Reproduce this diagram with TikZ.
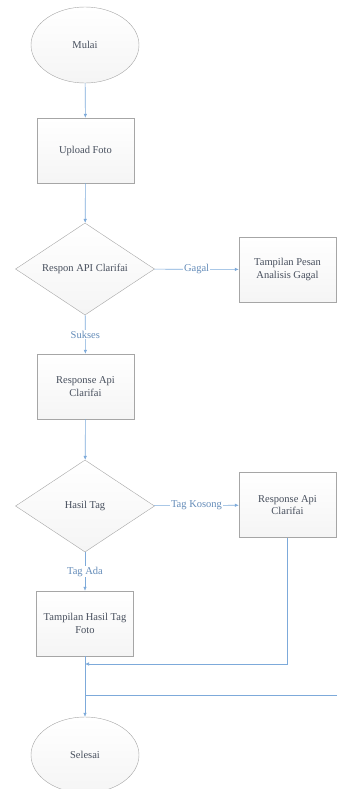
\documentclass[tikz,border=0pt]{standalone}
\usepackage{fontspec}
\setmainfont{Liberation Serif}
\usetikzlibrary{shapes.geometric,arrows.meta}
\definecolor{lineblue}{RGB}{125,170,218}
\definecolor{lblblue}{RGB}{100,140,185}
\definecolor{txtgray}{RGB}{70,78,92}
\begin{document}
\begin{tikzpicture}[x=1pt,y=-1pt,
	font=\fontsize{10.5}{12.5}\selectfont,
	box/.style={draw=gray!70,top color=white,bottom color=gray!8,text=txtgray,align=center},
	terminal/.style={box,ellipse,minimum width=108pt,minimum height=76pt},
	process/.style={box,rectangle,minimum width=97pt,minimum height=65pt,inner sep=1pt},
	decision/.style={box,diamond,aspect=1.5,inner sep=0pt,minimum width=139pt,minimum height=92pt},
	flow/.style={draw=lineblue,line width=0.6pt,-{Latex[length=4pt,width=3.5pt]}},
	lbl/.style={fill=white,text=lblblue,inner sep=1pt}]
\useasboundingbox (0,0) rectangle (337,789);
\node [terminal] (mulai) at (85,45) {Mulai};
\node [process] (upload) at (85.5,150.5) {Upload Foto};
\node [decision] (respon) at (85,269) {Respon API Clarifai};
\node [process] (pesan) at (287.5,269.5) {Tampilan Pesan\\Analisis Gagal};
\node [process] (resp1) at (85.5,386.5) {Response Api\\Clarifai};
\node [decision] (hasil) at (85,506) {Hasil Tag};
\node [process] (resp2) at (287.5,505) {Response Api\\Clarifai};
\node [process] (foto) at (85,623.5) {Tampilan Hasil Tag\\Foto};
\node [terminal] (selesai) at (85,755) {Selesai};
\coordinate (gabung) at (85,664);
\coordinate (luar) at (337,695);
\coordinate (gabung2) at (85,695);
\draw [flow] (mulai) -- (upload);
\draw [flow] (upload) -- (respon);
\draw [flow] (respon) -- node[lbl] {Gagal} (pesan);
\draw [flow] (respon) -- node[lbl] {Sukses} (resp1);
\draw [flow] (resp1) -- (hasil);
\draw [flow] (hasil) -- node[lbl] {Tag Kosong} (resp2);
\draw [flow] (hasil) -- node[lbl] {Tag Ada} (foto);
\draw [flow] (resp2) |- (gabung);
\draw [flow] (foto) -- (selesai);
\draw [draw=lineblue,line width=0.6pt] (luar) -- (gabung2);
\end{tikzpicture}
\end{document}
